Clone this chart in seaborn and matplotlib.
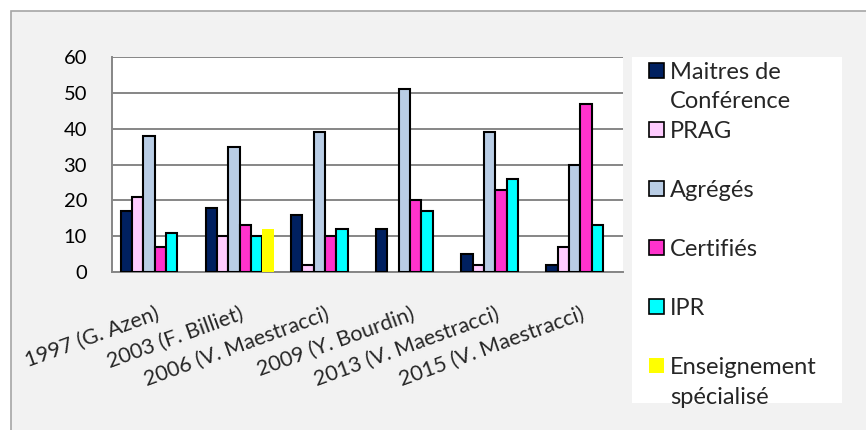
"""Répartition des enseignants par catégorie, rapports 1997-2015."""
import pandas as pd
import matplotlib.pyplot as plt
import seaborn as sns
from matplotlib.patches import Patch, Rectangle

years = ['1997 (G. Azen)', '2003 (F. Billiet)', '2006 (V. Maestracci)',
         '2009 (Y. Bourdin)', '2013 (V. Maestracci)', '2015 (V. Maestracci)']
series = ['Maitres de Conférence', 'PRAG', 'Agrégés', 'Certifiés', 'IPR',
          'Enseignement spécialisé']
maitres = [17, 18, 16, 12, 5, 2]
prag = [21, 10, 2, 0, 2, 7]
agreges = [38, 35, 39, 51, 39, 30]
certifies = [7, 13, 10, 20, 23, 47]
ipr = [11, 10, 12, 17, 26, 13]
specialise = [0, 12, 0, 0, 0, 0]
colors = ['#002060', '#FFCCFF', '#B9CDE5', '#FF33CC', '#00FFFF', '#FFFF00']

rows = []
for name, vals in zip(series, [maitres, prag, agreges, certifies, ipr, specialise]):
    for y, v in zip(years, vals):
        rows.append({'annee': y, 'serie': name, 'valeur': v})
df = pd.DataFrame(rows)

sns.set_theme(style="white")
plt.rcParams['font.family'] = ['Lato', 'DejaVu Sans']
grid_col = '#868686'

fig = plt.figure(figsize=(8.66, 4.30), dpi=100, facecolor='white')
# chart area background with its grey frame
fig.patches.append(Rectangle((11 / 866, -0.2), 1.2, 1 - 11 / 430 + 0.2,
                             transform=fig.transFigure, facecolor='#f2f2f2',
                             edgecolor='#a6a6a6', linewidth=1.2, zorder=-10))
# legend background
fig.patches.append(Rectangle((632 / 866, 1 - 403 / 430), 210 / 866, 346 / 430,
                             transform=fig.transFigure, facecolor='white',
                             edgecolor='none', zorder=-5))

ax = fig.add_axes([112 / 866, 1 - 272 / 430, 511 / 866, 215 / 430])
ax.set_facecolor('white')

sns.barplot(data=df, x='annee', y='valeur', hue='serie', palette=colors,
            saturation=1, width=0.8, edgecolor='black', linewidth=1.5,
            errorbar=None, legend=False, ax=ax)

for i, cont in enumerate(ax.containers):
    for bar in cont:
        if i == len(series) - 1 or bar.get_height() == 0:
            bar.set_linewidth(0)
        bar.set_zorder(3)

ax.set_ylim(0, 60)
ax.set_xlim(-0.5, len(years) - 0.5)
ax.set_yticks(range(0, 61, 10))
ax.grid(axis='y', color=grid_col, linewidth=1.4, zorder=0)
ax.set_axisbelow(True)
ax.set_xlabel('')
ax.set_ylabel('')
for s in ['top', 'right']:
    ax.spines[s].set_visible(False)
for s in ['left', 'bottom']:
    ax.spines[s].set_color(grid_col)
    ax.spines[s].set_linewidth(1.4)
ax.tick_params(axis='y', length=6, width=1.4, color=grid_col, pad=12,
               labelsize=14.5, labelcolor='black')
ax.set_xticks([i - 0.5 for i in range(len(years) + 1)], minor=True)
ax.tick_params(axis='x', which='minor', length=6, width=1.4, color=grid_col)
ax.set_xticks(range(len(years)))
ax.set_xticklabels(years, rotation=20, ha='right', rotation_mode='anchor',
                   fontsize=15.5)
ax.tick_params(axis='x', which='major', length=0, pad=23)

# legend: one row per text line, as in the original chart
handles, labels = [], []
blank = Patch(facecolor='none', edgecolor='none')
legend_rows = [('Maitres de', 0), ('Conférence', None), ('PRAG', 1), (' ', None),
               ('Agrégés', 2), (' ', None), ('Certifiés', 3), (' ', None),
               ('IPR', 4), (' ', None), ('Enseignement', 5), ('spécialisé', None)]
for text, idx in legend_rows:
    if idx is None:
        handles.append(blank)
    else:
        handles.append(Patch(facecolor=colors[idx],
                             edgecolor='none' if idx == 5 else 'black',
                             linewidth=1.2))
    labels.append(text)
fig.legend(handles, labels, loc='upper left', frameon=False,
           bbox_to_anchor=(649 / 866, 1 - 62 / 430), borderpad=0,
           borderaxespad=0, fontsize=17, handlelength=0.62, handleheight=0.6,
           handletextpad=0.28, labelspacing=0.36)

plt.savefig('out.png', dpi=100)
plt.close()
